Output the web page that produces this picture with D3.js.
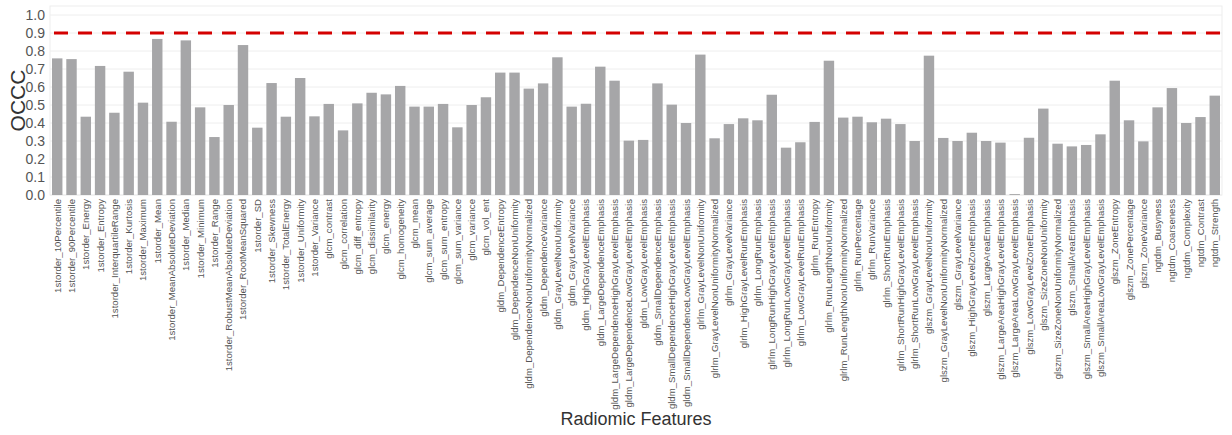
<!DOCTYPE html>
<html>
<head>
<meta charset="utf-8">
<script src="https://cdn.jsdelivr.net/npm/d3@7"></script>
<style>
  html, body { margin: 0; padding: 0; background: #fff; }
  svg { display: block; font-family: "Liberation Sans", Arial, sans-serif; }
</style>
</head>
<body>
<svg id="chart" width="1232" height="435"></svg>
<script>
const features = [
  "1storder_10Percentile","1storder_90Percentile","1storder_Energy","1storder_Entropy",
  "1storder_InterquartileRange","1storder_Kurtosis","1storder_Maximum","1storder_Mean",
  "1storder_MeanAbsoluteDeviation","1storder_Median","1storder_Minimum","1storder_Range",
  "1storder_RobustMeanAbsoluteDeviation","1storder_RootMeanSquared","1storder_SD","1storder_Skewness",
  "1storder_TotalEnergy","1storder_Uniformity","1storder_Variance","glcm_contrast",
  "glcm_correlation","glcm_diff_entropy","glcm_dissimilarity","glcm_energy",
  "glcm_homogeneity","glcm_mean","glcm_sum_average","glcm_sum_entropy",
  "glcm_sum_variance","glcm_variance","glcm_vol_ent","gldm_DependenceEntropy",
  "gldm_DependenceNonUniformity","gldm_DependenceNonUniformityNormalized","gldm_DependenceVariance","gldm_GrayLevelNonUniformity",
  "gldm_GrayLevelVariance","gldm_HighGrayLevelEmphasis","gldm_LargeDependenceEmphasis","gldm_LargeDependenceHighGrayLevelEmphasis",
  "gldm_LargeDependenceLowGrayLevelEmphasis","gldm_LowGrayLevelEmphasis","gldm_SmallDependenceEmphasis","gldm_SmallDependenceHighGrayLevelEmphasis",
  "gldm_SmallDependenceLowGrayLevelEmphasis","glrlm_GrayLevelNonUniformity","glrlm_GrayLevelNonUniformityNormalized","glrlm_GrayLevelVariance",
  "glrlm_HighGrayLevelRunEmphasis","glrlm_LongRunEmphasis","glrlm_LongRunHighGrayLevelEmphasis","glrlm_LongRunLowGrayLevelEmphasis",
  "glrlm_LowGrayLevelRunEmphasis","glrlm_RunEntropy","glrlm_RunLengthNonUniformity","glrlm_RunLengthNonUniformityNormalized",
  "glrlm_RunPercentage","glrlm_RunVariance","glrlm_ShortRunEmphasis","glrlm_ShortRunHighGrayLevelEmphasis",
  "glrlm_ShortRunLowGrayLevelEmphasis","glszm_GrayLevelNonUniformity","glszm_GrayLevelNonUniformityNormalized","glszm_GrayLevelVariance",
  "glszm_HighGrayLevelZoneEmphasis","glszm_LargeAreaEmphasis","glszm_LargeAreaHighGrayLevelEmphasis","glszm_LargeAreaLowGrayLevelEmphasis",
  "glszm_LowGrayLevelZoneEmphasis","glszm_SizeZoneNonUniformity","glszm_SizeZoneNonUniformityNormalized","glszm_SmallAreaEmphasis",
  "glszm_SmallAreaHighGrayLevelEmphasis","glszm_SmallAreaLowGrayLevelEmphasis","glszm_ZoneEntropy","glszm_ZonePercentage",
  "glszm_ZoneVariance","ngtdm_Busyness","ngtdm_Coarseness","ngtdm_Complexity",
  "ngtdm_Contrast","ngtdm_Strength"
];

const occc = [
  0.759,0.755,0.435,0.717,0.457,0.685,0.513,0.867,
  0.407,0.859,0.487,0.322,0.500,0.833,0.374,0.622,
  0.435,0.650,0.437,0.506,0.359,0.509,0.568,0.559,
  0.606,0.491,0.491,0.506,0.376,0.500,0.543,0.680,
  0.680,0.591,0.620,0.765,0.491,0.507,0.713,0.635,
  0.302,0.306,0.620,0.502,0.400,0.780,0.315,0.394,
  0.426,0.415,0.557,0.263,0.293,0.406,0.746,0.430,
  0.435,0.404,0.424,0.394,0.300,0.774,0.317,0.300,
  0.346,0.300,0.291,0.005,0.318,0.480,0.285,0.270,
  0.278,0.337,0.635,0.415,0.298,0.487,0.594,0.400,
  0.433,0.552
];

const yTicks = [0.0,0.1,0.2,0.3,0.4,0.5,0.6,0.7,0.8,0.9,1.0];
const threshold = 0.9;
const yTitle = "OCCC";
const xTitle = "Radiomic Features";

(function () {
  const svg = d3.select("#chart");
  const pL = 50, pR = 1222, pT = 6, pB = 195;

  const x = d3.scaleBand().domain(features).range([pL, pR]).paddingInner(0.27).paddingOuter(0.14);
  const y = d3.scaleLinear().domain([0, 1.05]).range([pB, pT]);

  // panel border
  svg.append("rect").attr("x", pL).attr("y", pT).attr("width", pR - pL).attr("height", pB - pT)
    .attr("fill", "none").attr("stroke", "#ededed").attr("stroke-width", 1);

  // gridlines
  svg.append("g").selectAll("line").data(yTicks).join("line")
    .attr("x1", pL).attr("x2", pR)
    .attr("y1", d => y(d)).attr("y2", d => y(d))
    .attr("stroke", "#eeeeee").attr("stroke-width", 1);

  // bars
  svg.append("g").selectAll("rect").data(features).join("rect")
    .attr("x", d => x(d))
    .attr("width", x.bandwidth())
    .attr("y", (d, i) => y(occc[i]))
    .attr("height", (d, i) => y(0) - y(occc[i]))
    .attr("fill", "#a6a6a8");

  // threshold line
  svg.append("line")
    .attr("x1", pL + 4).attr("x2", pR + 3)
    .attr("y1", y(threshold)).attr("y2", y(threshold))
    .attr("stroke", "#d40000").attr("stroke-width", 3.2)
    .attr("stroke-dasharray", "14,10");

  // y axis
  const yAxis = d3.axisLeft(y).tickValues(yTicks).tickFormat(d3.format(".1f")).tickSize(0).tickPadding(4);
  const gy = svg.append("g").attr("transform", `translate(${pL - 1},0)`).call(yAxis);
  gy.select(".domain").remove();
  gy.selectAll("text").attr("font-size", 14).attr("fill", "#555").attr("font-family", "Liberation Sans, Arial, sans-serif");

  // x axis
  const xAxis = d3.axisBottom(x).tickSize(0).tickPadding(0);
  const gx = svg.append("g").attr("transform", `translate(0,${pB})`).call(xAxis);
  gx.select(".domain").remove();
  gx.selectAll("text")
    .attr("transform", "rotate(-90)")
    .attr("text-anchor", "end")
    .attr("dominant-baseline", "central")
    .attr("x", -4).attr("y", 0).attr("dy", null)
    .attr("font-size", 9.6).attr("fill", "#555")
    .attr("font-family", "Liberation Sans, Arial, sans-serif");

  // titles
  svg.append("text").attr("transform", `translate(25,${(pT + pB) / 2}) rotate(-90)`)
    .attr("text-anchor", "middle").attr("font-size", 21).attr("fill", "#333").text(yTitle);
  svg.append("text").attr("x", (pL + pR) / 2).attr("y", 425)
    .attr("text-anchor", "middle").attr("font-size", 18).attr("fill", "#333").text(xTitle);
})();
</script>
</body>
</html>
